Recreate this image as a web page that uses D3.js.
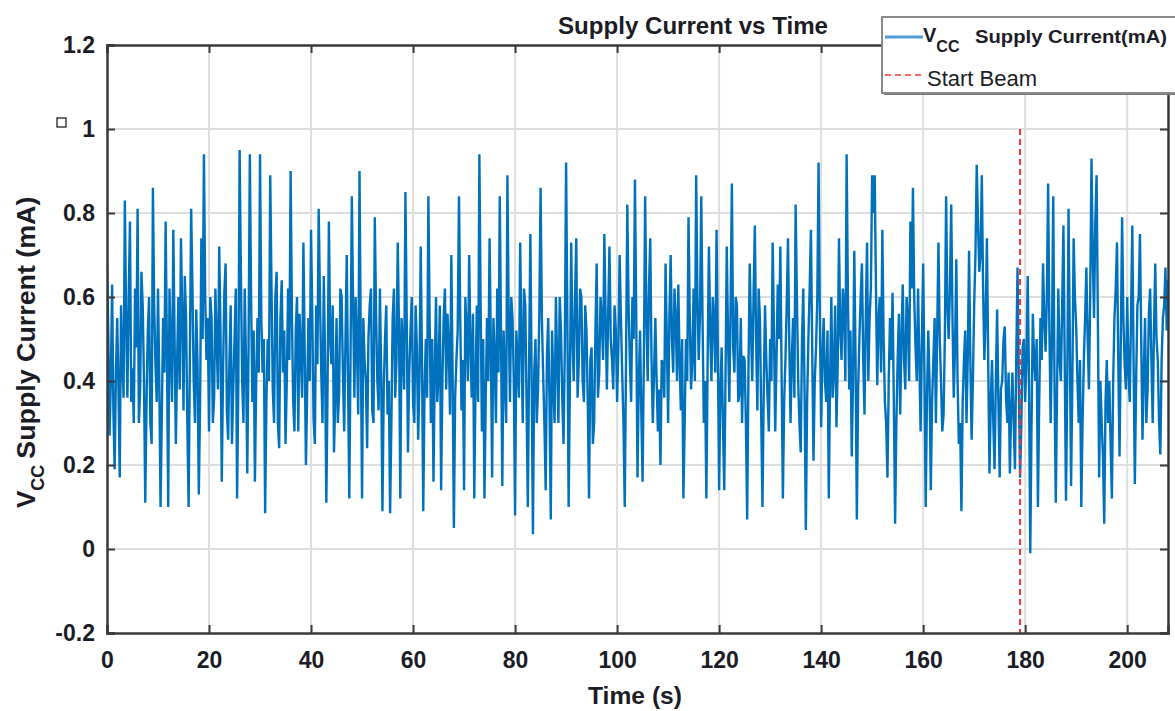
<!DOCTYPE html>
<meta charset="utf-8">
<script src="https://d3js.org/d3.v7.min.js"></script>
<style>
  body { margin: 0; background: #fff; }
  text { font-family: "Liberation Sans", Arial, sans-serif; fill: #1c1c26; }
</style>
<div id="chart"></div>
<script>
// sample spacing in seconds
var dt = 0.25;

// Vcc supply current (mA), one value every 0.25 s (10 s per row)
var current = [
  0.68,0.52,0.27,0.40,0.63,0.33,0.19,0.42,0.55,0.38,0.17,0.58,0.45,0.36,0.83,0.55,0.36,0.60,0.78,0.35,0.43,0.30,0.62,0.48,0.81,0.30,0.38,0.66,0.58,0.40,0.11,0.35,0.52,0.60,0.30,0.25,0.86,0.58,0.44,0.35,
  0.62,0.40,0.10,0.32,0.55,0.42,0.78,0.47,0.10,0.62,0.48,0.35,0.76,0.50,0.25,0.45,0.60,0.38,0.74,0.56,0.33,0.65,0.55,0.30,0.10,0.46,0.81,0.62,0.40,0.30,0.57,0.44,0.13,0.35,0.74,0.50,0.94,0.60,0.45,0.55,
  0.28,0.60,0.55,0.30,0.36,0.62,0.49,0.38,0.72,0.52,0.16,0.42,0.61,0.68,0.33,0.26,0.45,0.58,0.25,0.38,0.50,0.62,0.12,0.40,0.95,0.66,0.40,0.30,0.62,0.45,0.18,0.48,0.94,0.60,0.35,0.52,0.16,0.40,0.55,0.42,
  0.94,0.55,0.42,0.50,0.085,0.35,0.50,0.40,0.89,0.62,0.38,0.30,0.60,0.66,0.30,0.24,0.55,0.64,0.42,0.52,0.25,0.40,0.62,0.45,0.90,0.56,0.35,0.28,0.52,0.60,0.28,0.56,0.47,0.36,0.73,0.48,0.20,0.38,0.55,0.40,
  0.76,0.55,0.31,0.25,0.58,0.44,0.81,0.60,0.42,0.30,0.65,0.45,0.11,0.40,0.78,0.50,0.44,0.58,0.23,0.36,0.55,0.30,0.37,0.62,0.60,0.42,0.28,0.50,0.70,0.40,0.12,0.47,0.84,0.58,0.36,0.60,0.48,0.32,0.90,0.50,
  0.12,0.55,0.45,0.40,0.24,0.50,0.58,0.62,0.33,0.30,0.79,0.56,0.40,0.33,0.62,0.42,0.09,0.38,0.50,0.58,0.32,0.40,0.085,0.30,0.55,0.62,0.36,0.45,0.73,0.52,0.12,0.55,0.48,0.38,0.85,0.56,0.23,0.42,0.52,0.60,
  0.35,0.30,0.58,0.48,0.26,0.40,0.72,0.45,0.09,0.38,0.50,0.36,0.84,0.55,0.30,0.50,0.16,0.42,0.60,0.35,0.42,0.58,0.14,0.40,0.55,0.62,0.38,0.56,0.48,0.32,0.70,0.42,0.05,0.36,0.45,0.52,0.84,0.55,0.33,0.45,
  0.14,0.60,0.52,0.40,0.70,0.48,0.36,0.56,0.12,0.40,0.58,0.35,0.94,0.58,0.28,0.50,0.12,0.36,0.55,0.40,0.74,0.48,0.17,0.55,0.46,0.30,0.62,0.42,0.84,0.50,0.15,0.52,0.40,0.30,0.89,0.55,0.35,0.60,0.55,0.40,
  0.08,0.52,0.44,0.36,0.73,0.50,0.30,0.62,0.58,0.35,0.10,0.45,0.75,0.40,0.035,0.42,0.50,0.30,0.38,0.56,0.86,0.55,0.42,0.30,0.14,0.46,0.55,0.35,0.07,0.52,0.40,0.30,0.60,0.45,0.30,0.60,0.52,0.36,0.25,0.48,
  0.92,0.55,0.10,0.40,0.73,0.50,0.40,0.60,0.74,0.36,0.45,0.62,0.60,0.40,0.35,0.58,0.52,0.35,0.12,0.45,0.48,0.25,0.30,0.52,0.68,0.36,0.42,0.60,0.55,0.45,0.75,0.55,0.38,0.56,0.72,0.50,0.45,0.38,0.58,0.52,
  0.35,0.48,0.70,0.55,0.42,0.30,0.10,0.45,0.82,0.58,0.45,0.35,0.60,0.50,0.88,0.56,0.17,0.40,0.52,0.32,0.16,0.46,0.84,0.55,0.40,0.62,0.74,0.45,0.30,0.42,0.55,0.40,0.28,0.38,0.20,0.45,0.44,0.36,0.68,0.50,
  0.30,0.55,0.70,0.50,0.42,0.62,0.55,0.40,0.63,0.45,0.33,0.50,0.12,0.30,0.50,0.40,0.79,0.55,0.38,0.45,0.62,0.40,0.89,0.60,0.45,0.56,0.84,0.55,0.30,0.40,0.12,0.45,0.72,0.52,0.40,0.60,0.55,0.42,0.76,0.48,
  0.14,0.38,0.48,0.30,0.14,0.40,0.72,0.50,0.35,0.58,0.87,0.48,0.42,0.60,0.58,0.35,0.37,0.55,0.30,0.46,0.45,0.30,0.07,0.42,0.68,0.52,0.40,0.60,0.77,0.50,0.33,0.62,0.55,0.32,0.10,0.38,0.58,0.45,0.36,0.28,
  0.50,0.40,0.73,0.52,0.28,0.45,0.63,0.50,0.72,0.42,0.12,0.35,0.45,0.58,0.74,0.50,0.30,0.45,0.55,0.36,0.82,0.60,0.40,0.30,0.23,0.50,0.62,0.38,0.045,0.35,0.50,0.62,0.76,0.48,0.21,0.40,0.48,0.60,0.92,0.55,
  0.29,0.46,0.55,0.40,0.35,0.52,0.12,0.40,0.60,0.36,0.42,0.58,0.29,0.44,0.74,0.52,0.45,0.62,0.58,0.40,0.94,0.60,0.38,0.52,0.22,0.40,0.71,0.45,0.07,0.38,0.50,0.60,0.68,0.45,0.32,0.55,0.73,0.40,0.55,0.62,
  0.89,0.80,0.89,0.62,0.39,0.55,0.60,0.42,0.76,0.50,0.35,0.30,0.17,0.40,0.55,0.45,0.61,0.35,0.06,0.30,0.45,0.56,0.32,0.50,0.63,0.45,0.38,0.60,0.55,0.40,0.78,0.62,0.86,0.60,0.48,0.40,0.62,0.45,0.28,0.50,
  0.68,0.42,0.10,0.36,0.52,0.40,0.14,0.35,0.45,0.55,0.30,0.52,0.73,0.50,0.40,0.28,0.32,0.50,0.84,0.58,0.50,0.62,0.82,0.55,0.36,0.48,0.69,0.40,0.25,0.30,0.09,0.35,0.45,0.52,0.30,0.46,0.71,0.45,0.26,0.40,
  0.58,0.70,0.915,0.78,0.66,0.70,0.89,0.62,0.45,0.55,0.74,0.45,0.18,0.35,0.45,0.30,0.19,0.40,0.57,0.35,0.17,0.38,0.40,0.50,0.53,0.36,0.30,0.42,0.18,0.33,0.42,0.30,0.19,0.45,0.67,0.40,0.17,0.30,0.48,0.50,
  0.35,0.45,0.65,0.40,-0.01,0.30,0.56,0.45,0.40,0.50,0.10,0.35,0.55,0.45,0.68,0.55,0.47,0.60,0.87,0.52,0.30,0.50,0.84,0.40,0.11,0.38,0.62,0.45,0.40,0.58,0.77,0.45,0.115,0.40,0.81,0.50,0.15,0.40,0.74,0.60,
  0.53,0.40,0.30,0.45,0.10,0.30,0.45,0.55,0.67,0.50,0.38,0.60,0.93,0.70,0.55,0.78,0.89,0.55,0.17,0.40,0.30,0.22,0.06,0.35,0.45,0.30,0.40,0.25,0.12,0.40,0.55,0.62,0.73,0.45,0.22,0.50,0.79,0.55,0.44,0.38,
  0.60,0.42,0.35,0.55,0.77,0.45,0.155,0.40,0.58,0.60,0.75,0.50,0.26,0.42,0.55,0.30,0.38,0.56,0.62,0.45,0.30,0.52,0.68,0.50,0.45,0.30,0.225,0.45,0.55,0.58,0.67,0.52,0.64
];

var startBeam = 179;
var xTicks = [0, 20, 40, 60, 80, 100, 120, 140, 160, 180, 200];
var yTicks = [-0.2, 0, 0.2, 0.4, 0.6, 0.8, 1, 1.2];

var margin = {top: 45, right: 7, bottom: 78, left: 107},
    width = 1175 - margin.left - margin.right,
    height = 711 - margin.top - margin.bottom;

var svg = d3.select("#chart")
  .append("svg")
    .attr("width", 1175)
    .attr("height", 711);

var g = svg.append("g")
    .attr("transform", "translate(" + margin.left + "," + margin.top + ")");

var x = d3.scaleLinear().domain([0, 208]).range([0, width]);
var y = d3.scaleLinear().domain([-0.2, 1.2]).range([height, 0]);

// grid
g.append("g").selectAll("line").data(xTicks.slice(1)).join("line")
    .attr("x1", d => x(d)).attr("x2", d => x(d))
    .attr("y1", 0).attr("y2", height)
    .attr("stroke", "#dedede").attr("stroke-width", 2);
g.append("g").selectAll("line").data(yTicks.slice(1, -1)).join("line")
    .attr("x1", 0).attr("x2", width)
    .attr("y1", d => y(d)).attr("y2", d => y(d))
    .attr("stroke", "#dedede").attr("stroke-width", 2);

// data line
g.append("clipPath").attr("id", "clip")
  .append("rect").attr("width", width).attr("height", height);

var line = d3.line()
    .x((d, i) => x(i * dt))
    .y(d => y(d));

g.append("path")
    .datum(current)
    .attr("clip-path", "url(#clip)")
    .attr("fill", "none")
    .attr("stroke", "#0072BD")
    .attr("stroke-width", 2.4)
    .attr("stroke-linejoin", "bevel")
    .attr("d", line);

// start beam marker
g.append("line")
    .attr("x1", x(startBeam)).attr("x2", x(startBeam))
    .attr("y1", y(1)).attr("y2", height)
    .attr("stroke", "#ff3030").attr("stroke-width", 2)
    .attr("stroke-dasharray", "6,4");

// axes (ticks point inward like MATLAB)
var fmt = d => String(+d.toFixed(1));

g.append("g")
    .attr("transform", "translate(0," + height + ")")
    .call(d3.axisBottom(x).tickValues(xTicks).tickFormat(fmt).tickSize(-8).tickPadding(19));
g.append("g")
    .call(d3.axisLeft(y).tickValues(yTicks).tickFormat(fmt).tickSize(-8).tickPadding(12));
g.append("g")
    .call(d3.axisTop(x).tickValues(xTicks).tickFormat("").tickSize(-8));
g.append("g")
    .attr("transform", "translate(" + width + ",0)")
    .call(d3.axisRight(y).tickValues(yTicks).tickFormat("").tickSize(-8));

g.selectAll(".domain").attr("stroke", "#3a3a3a").attr("stroke-width", 2.5);
g.selectAll(".tick line").attr("stroke", "#3a3a3a").attr("stroke-width", 2);
g.selectAll(".tick text")
    .style("font-size", "23px")
    .style("font-weight", "bold")
    .style("font-family", "'Liberation Sans', Arial, sans-serif")
    .attr("fill", "#1c1c26");

// title
svg.append("text")
    .attr("x", 693).attr("y", 34)
    .attr("text-anchor", "middle")
    .attr("textLength", 270).attr("lengthAdjust", "spacingAndGlyphs")
    .style("font-size", "23px").style("font-weight", "bold")
    .text("Supply Current vs Time");

// x label
svg.append("text")
    .attr("x", 635).attr("y", 704)
    .attr("text-anchor", "middle")
    .attr("textLength", 94).attr("lengthAdjust", "spacingAndGlyphs")
    .style("font-size", "24px").style("font-weight", "bold")
    .text("Time (s)");

// y label
var yl = svg.append("text")
    .attr("transform", "translate(35,508) rotate(-90)")
    .style("font-weight", "bold");
yl.append("tspan").style("font-size", "26px").text("V");
yl.append("tspan").attr("dy", 9).style("font-size", "18px").text("CC");
yl.append("tspan").attr("dy", -9).attr("dx", 6)
    .attr("textLength", 262).attr("lengthAdjust", "spacingAndGlyphs")
    .style("font-size", "25px").text("Supply Current (mA)");

// stray little square left of the axis
svg.append("rect")
    .attr("x", 57).attr("y", 118).attr("width", 9).attr("height", 9)
    .attr("fill", "none").attr("stroke", "#222").attr("stroke-width", 1.3);

// legend
var lg = svg.append("g").attr("transform", "translate(882,17)");
lg.append("rect")
    .attr("x", 2).attr("y", 2).attr("width", 300).attr("height", 76)
    .attr("fill", "#777");
lg.append("rect")
    .attr("width", 300).attr("height", 76)
    .attr("fill", "#fff").attr("stroke", "#8a8a8a").attr("stroke-width", 2);
lg.append("line")
    .attr("x1", 3).attr("x2", 41).attr("y1", 20).attr("y2", 20)
    .attr("stroke", "#4f9bd6").attr("stroke-width", 3);
var lt = lg.append("text").attr("x", 41).attr("y", 25)
    .style("font-weight", "bold");
lt.append("tspan").style("font-size", "20px").text("V");
lt.append("tspan").attr("dy", 10).style("font-size", "16px").text("CC");
lg.append("text").attr("x", 93).attr("y", 26)
    .attr("textLength", 192).attr("lengthAdjust", "spacingAndGlyphs")
    .style("font-size", "18px").style("font-weight", "bold")
    .text("Supply Current(mA)");
lg.append("line")
    .attr("x1", 3).attr("x2", 41).attr("y1", 58).attr("y2", 58)
    .attr("stroke", "#ff6666").attr("stroke-width", 2)
    .attr("stroke-dasharray", "6,4");
lg.append("text").attr("x", 45).attr("y", 69)
    .style("font-size", "22px")
    .text("Start Beam");
</script>
